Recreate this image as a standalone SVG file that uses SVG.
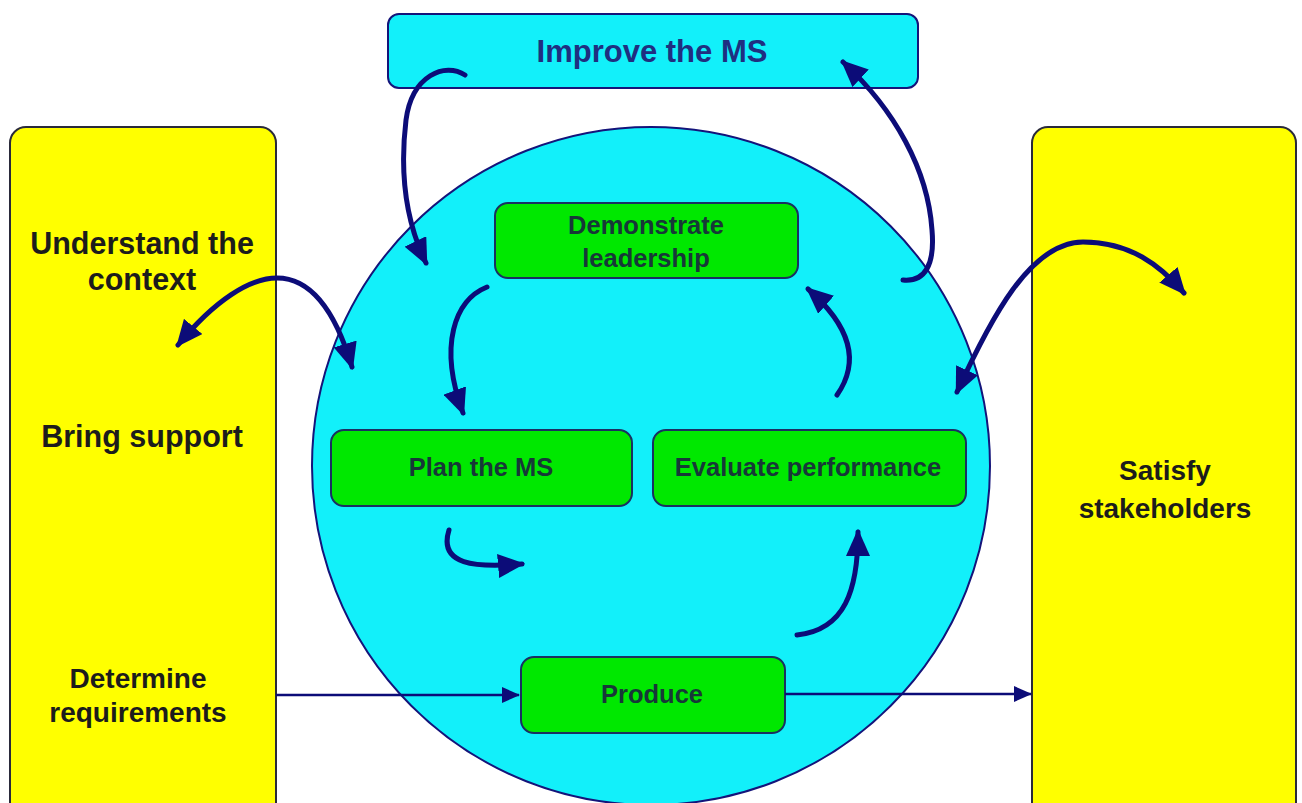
<svg xmlns="http://www.w3.org/2000/svg" width="1302" height="803" viewBox="0 0 1302 803">
<style>
.side{fill:#FFFF00;stroke:#2a2a3a;stroke-width:2}
.gbox{fill:#00E800;stroke:#1a3060;stroke-width:2}
.cyan{fill:#12F0FA;stroke:#14147a;stroke-width:2}
.t{font-family:"Liberation Sans",Arial,sans-serif;font-weight:bold;text-anchor:middle}
.dark{fill:#1c1c1c}
.gt{fill:#173838;font-size:25.5px}
.arc{fill:none;stroke:#0c0c78;stroke-width:5;stroke-linecap:round}
.thin{fill:none;stroke:#0c0c78;stroke-width:2.5}
</style>
<defs>
<marker id="ah" viewBox="0 0 27 24" refX="24" refY="12" markerWidth="27" markerHeight="24" markerUnits="userSpaceOnUse" orient="auto-start-reverse">
<path d="M0,0 L27,12 L0,24 Z" fill="#0c0c78"/>
</marker>
<marker id="ahs" viewBox="0 0 18 16" refX="17" refY="8" markerWidth="18" markerHeight="16" markerUnits="userSpaceOnUse" orient="auto">
<path d="M0,0 L18,8 L0,16 Z" fill="#0c0c78"/>
</marker>
</defs>
<rect width="1302" height="803" fill="#ffffff"/>
<g id="left-panel">
<rect class="side" x="10" y="127" width="266" height="700" rx="16"/>
<text class="t dark" x="142" y="254" font-size="30.5">Understand the</text>
<text class="t dark" x="142" y="290" font-size="30.5">context</text>
<text class="t dark" x="142" y="447" font-size="30.5">Bring support</text>
<text class="t dark" x="138" y="688" font-size="28">Determine</text>
<text class="t dark" x="138" y="722" font-size="28">requirements</text>
</g>
<g id="right-panel">
<rect class="side" x="1032" y="127" width="264" height="700" rx="16"/>
<text class="t dark" x="1165" y="480" font-size="28">Satisfy</text>
<text class="t dark" x="1165" y="518" font-size="28">stakeholders</text>
</g>
<g id="improve">
<rect class="cyan" x="388" y="14" width="530" height="74" rx="11"/>
<text class="t" x="652" y="62" font-size="31" fill="#1f2f80">Improve the MS</text>
</g>
<g id="circle">
<ellipse class="cyan" cx="651" cy="466" rx="339" ry="339"/>
</g>
<g id="demonstrate">
<rect class="gbox" x="495" y="203" width="303" height="75" rx="13"/>
<text class="t gt" x="646" y="234">Demonstrate</text>
<text class="t gt" x="646" y="267">leadership</text>
</g>
<g id="plan">
<rect class="gbox" x="331" y="430" width="301" height="76" rx="13"/>
<text class="t gt" x="481" y="476">Plan the MS</text>
</g>
<g id="evaluate">
<rect class="gbox" x="653" y="430" width="313" height="76" rx="13"/>
<text class="t gt" x="808" y="476">Evaluate performance</text>
</g>
<g id="produce">
<rect class="gbox" x="521" y="657" width="264" height="76" rx="13"/>
<text class="t gt" x="652" y="703">Produce</text>
</g>
<g id="connectors">
<path class="arc" d="M465,75 C445,62 412,75 406,120 C400,170 405,220 426,263" marker-end="url(#ah)"/>
<path class="arc" d="M903,280 C925,282 935,265 932,230 C928,170 895,110 843,62" marker-end="url(#ah)"/>
<path class="arc" d="M178,345 C215,300 250,278 277,278 C310,278 335,310 352,367" marker-start="url(#ah)" marker-end="url(#ah)"/>
<path class="arc" d="M957,392 C990,320 1030,242 1083,242 C1130,242 1160,265 1184,293" marker-start="url(#ah)" marker-end="url(#ah)"/>
<path class="arc" d="M487,287 C455,300 438,345 463,413" marker-end="url(#ah)"/>
<path class="arc" d="M837,395 C858,365 855,330 808,289" marker-end="url(#ah)"/>
<path class="arc" d="M449,530 C438,565 475,568 522,564" marker-end="url(#ah)"/>
<path class="arc" d="M797,635 C845,630 858,590 858,532" marker-end="url(#ah)"/>
<path class="thin" d="M276,695 L519,695" marker-end="url(#ahs)"/>
<path class="thin" d="M785,694 L1031,694" marker-end="url(#ahs)"/>
</g>
</svg>
